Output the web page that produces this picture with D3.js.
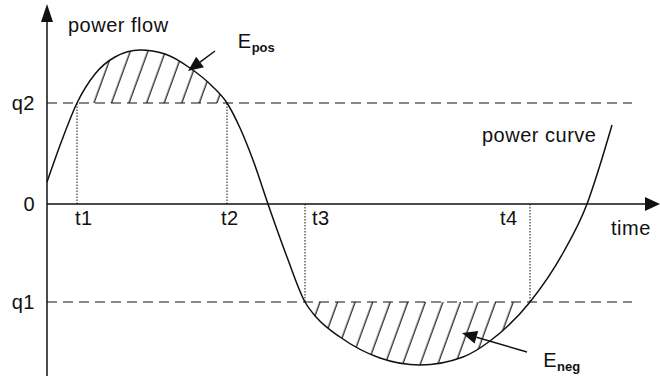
<!DOCTYPE html>
<html>
<head>
<meta charset="utf-8">
<script src="https://cdn.jsdelivr.net/npm/d3@7"></script>
<style>
  body { margin: 0; background: #fff; }
  svg text { font-family: "Liberation Sans", Arial, sans-serif; font-size: 20px; letter-spacing: 0.5px; fill: #111; }
</style>
</head>
<body>
<div id="visual"></div>
<script>
let width = 660, height = 376

// power curve
let curveTime  = [0, 2.5, 5, 8, 11.33, 15.5, 19.67, 23.83, 27.5, 30, 32.17, 34.33, 36.83, 40, 43, 45, 48.83, 55.5, 62.17, 69.33, 73.83, 80.5, 86, 90, 92.17, 94.17]
let curvePower = [0.22, 0.64, 1.01, 1.30, 1.47, 1.54, 1.50, 1.36, 1.18, 1.01, 0.76, 0.44, 0, -0.53, -0.98, -1.14, -1.33, -1.54, -1.61, -1.53, -1.37, -0.98, -0.49, 0, 0.39, 0.79]

let levelNames  = ["q2", "0", "q1"]
let levelValues = [1.01, 0, -0.98]

let crossNames  = ["t1", "t2", "t3", "t4"]
let crossTimes  = [5, 30, 43, 80.5]
let crossLevels = [1.01, 1.01, -0.98, -0.98]

// label nudges (layout only)
let crossLabelDx = [-2, -6, 7, -30]

let data = curveTime.map((t, i) => ({ t: t, p: curvePower[i] }))

let x = d3.scaleLinear().domain([0, 102]).range([47, 659])
let y = d3.scaleLinear().domain([-1.72, 2]).range([376, 4])

let svg = d3.select("#visual")
    .append("svg")
    .attr("width", width)
    .attr("height", height)

let defs = svg.append("defs")

let pattern = defs.append("pattern")
    .attr("id", "hatch")
    .attr("patternUnits", "userSpaceOnUse")
    .attr("width", 16.5)
    .attr("height", 10)
    .attr("patternTransform", "rotate(20)")
pattern.append("line")
    .attr("x1", 8).attr("y1", -1)
    .attr("x2", 8).attr("y2", 11)
    .attr("stroke", "#111")
    .attr("stroke-width", 1.2)

defs.append("clipPath").attr("id", "above")
    .append("rect")
    .attr("x", 0).attr("y", 0)
    .attr("width", width).attr("height", y(levelValues[0]))
defs.append("clipPath").attr("id", "below")
    .append("rect")
    .attr("x", 0).attr("y", y(levelValues[2]))
    .attr("width", width).attr("height", height - y(levelValues[2]))

let curve = d3.curveMonotoneX

// hatched energy areas
svg.append("path")
    .datum(data)
    .attr("clip-path", "url(#above)")
    .attr("fill", "url(#hatch)")
    .attr("d", d3.area().curve(curve).x(d => x(d.t)).y0(y(levelValues[0])).y1(d => y(d.p)))

svg.append("path")
    .datum(data)
    .attr("clip-path", "url(#below)")
    .attr("fill", "url(#hatch)")
    .attr("d", d3.area().curve(curve).x(d => x(d.t)).y0(y(levelValues[2])).y1(d => y(d.p)))

// dashed levels
svg.selectAll("level")
    .data([0, 2])
    .enter()
    .append("line")
    .attr("x1", x(0))
    .attr("x2", x(97.5))
    .attr("y1", i => y(levelValues[i]))
    .attr("y2", i => y(levelValues[i]))
    .attr("stroke", "#111")
    .attr("stroke-width", 1.2)
    .attr("stroke-dasharray", "10,6")

// dotted verticals
svg.selectAll("drop")
    .data(crossTimes)
    .enter()
    .append("line")
    .attr("x1", d => x(d))
    .attr("x2", d => x(d))
    .attr("y1", y(0))
    .attr("y2", (d, i) => y(crossLevels[i]))
    .attr("stroke", "#111")
    .attr("stroke-width", 1)
    .attr("stroke-dasharray", "1.5,1.5")

// axes
svg.append("line")
    .attr("x1", x(0)).attr("x2", x(0))
    .attr("y1", height).attr("y2", 18)
    .attr("stroke", "#111").attr("stroke-width", 1.5)
svg.append("path")
    .attr("d", "M" + x(0) + ",4L" + (x(0) + 6) + ",22L" + (x(0) - 6) + ",22Z")
    .attr("fill", "#111")

svg.append("line")
    .attr("x1", x(0)).attr("x2", 648)
    .attr("y1", y(0)).attr("y2", y(0))
    .attr("stroke", "#111").attr("stroke-width", 1.5)
svg.append("path")
    .attr("d", "M660," + y(0) + "L645," + (y(0) - 7) + "L645," + (y(0) + 7) + "Z")
    .attr("fill", "#111")

// power curve
svg.append("path")
    .datum(data)
    .attr("fill", "none")
    .attr("stroke", "#111")
    .attr("stroke-width", 1.5)
    .attr("d", d3.line().curve(curve).x(d => x(d.t)).y(d => y(d.p)))

// level labels
svg.selectAll("levelLabel")
    .data(levelNames)
    .enter()
    .append("text")
    .attr("x", x(0) - 12)
    .attr("y", (d, i) => y(levelValues[i]) + 7)
    .attr("text-anchor", "end")
    .text(d => d)

// time labels
svg.selectAll("crossLabel")
    .data(crossNames)
    .enter()
    .append("text")
    .attr("x", (d, i) => x(crossTimes[i]) + crossLabelDx[i])
    .attr("y", y(0) + 21)
    .text(d => d)

svg.append("text").attr("x", x(0) + 21).attr("y", 32).text("power flow")
svg.append("text").attr("x", 611).attr("y", y(0) + 31).text("time")
svg.append("text").attr("x", 482).attr("y", 142).text("power curve")

// energy annotations
function arrow(from, to) {
    let x1 = x(from[0]), y1 = y(from[1]), x2 = x(to[0]), y2 = y(to[1])
    let a = Math.atan2(y2 - y1, x2 - x1)
    let len = 15, half = 6.5
    let bx = x2 - len * Math.cos(a), by = y2 - len * Math.sin(a)
    svg.append("line")
        .attr("x1", x1).attr("y1", y1)
        .attr("x2", bx).attr("y2", by)
        .attr("stroke", "#111").attr("stroke-width", 1.5)
    svg.append("path")
        .attr("d", "M" + x2 + "," + y2 +
            "L" + (bx - half * Math.sin(a)) + "," + (by + half * Math.cos(a)) +
            "L" + (bx + half * Math.sin(a)) + "," + (by - half * Math.cos(a)) + "Z")
        .attr("fill", "#111")
}

arrow([28, 1.53], [23.5, 1.33])
arrow([80, -1.48], [69.17, -1.29])

let ePos = svg.append("text").attr("x", x(31.8)).attr("y", y(1.56))
ePos.append("tspan").text("E")
ePos.append("tspan").attr("dy", 4).attr("font-size", 13).attr("font-weight", "bold").attr("letter-spacing", 0).text("pos")

let eNeg = svg.append("text").attr("x", x(82.7)).attr("y", y(-1.63))
eNeg.append("tspan").text("E")
eNeg.append("tspan").attr("dy", 4).attr("font-size", 13).attr("font-weight", "bold").attr("letter-spacing", 0).text("neg")
</script>
</body>
</html>
